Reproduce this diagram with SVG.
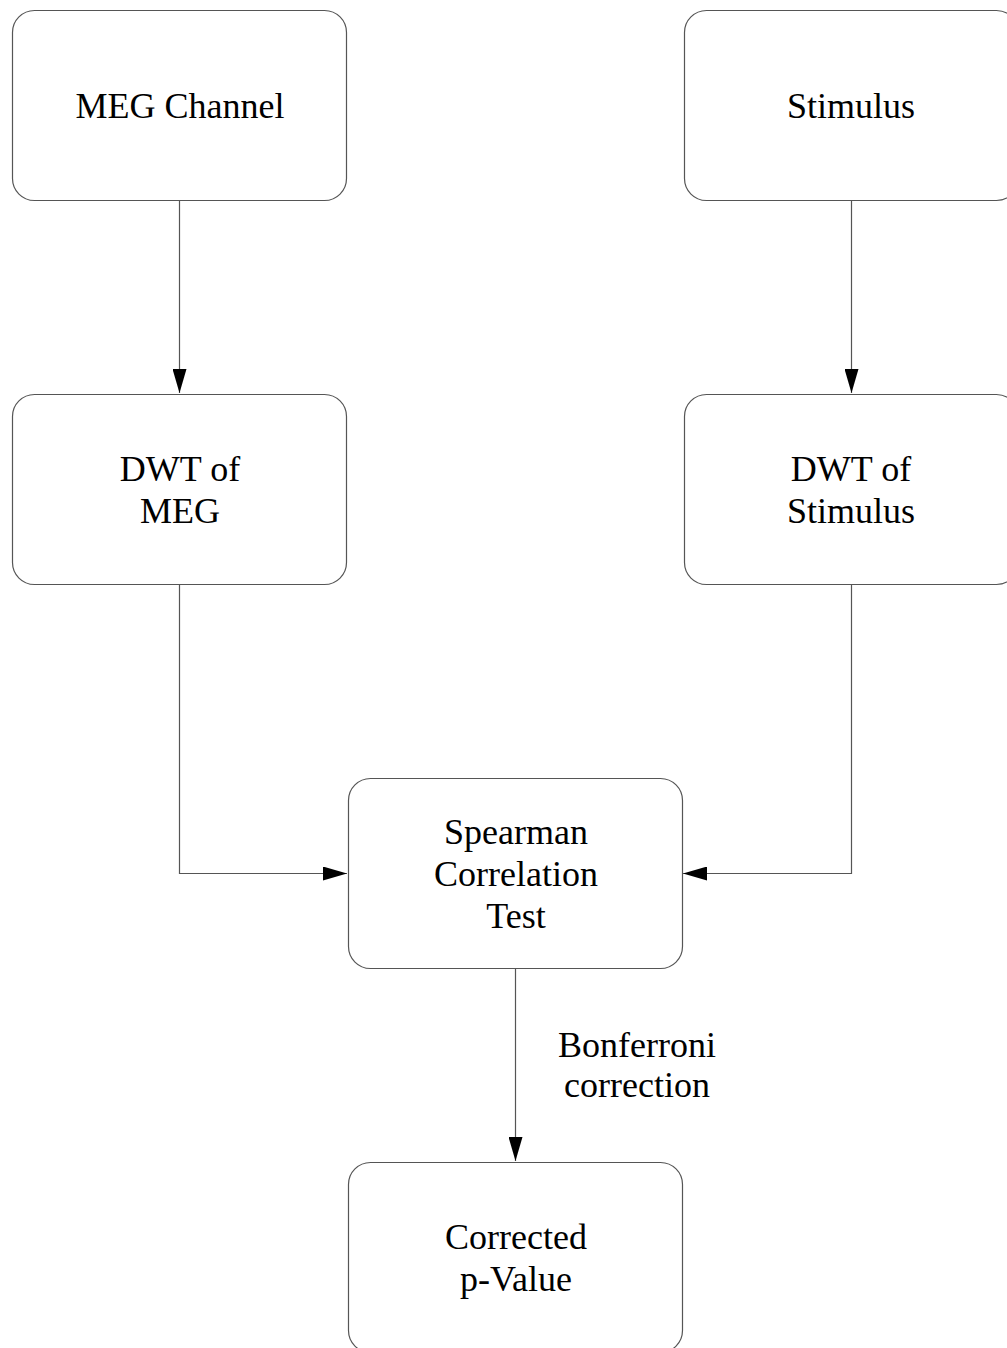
<svg xmlns="http://www.w3.org/2000/svg" width="1007" height="1348" viewBox="0 0 1007 1348">
<style>
.box{fill:#fff;stroke:#555;stroke-width:1.2}
.t{font-family:"Liberation Serif","Times New Roman",serif;font-size:36px;fill:#000;text-anchor:middle}
.c{fill:none;stroke:#555;stroke-width:1.2}
</style>
<defs>
<marker id="ah" markerWidth="24" markerHeight="14" refX="24" refY="7" orient="auto" markerUnits="userSpaceOnUse">
<path d="M0,0 L24,7 L0,14 Z" fill="#000"/>
</marker>
</defs>
<rect width="1007" height="1348" fill="#fff"/>
<g id="connectors">
<path class="c" d="M179.5,200 V393" marker-end="url(#ah)"/>
<path class="c" d="M851.5,200 V393" marker-end="url(#ah)"/>
<path class="c" d="M179.5,584 V873.5 H347" marker-end="url(#ah)"/>
<path class="c" d="M851.5,584 V873.5 H683" marker-end="url(#ah)"/>
<path class="c" d="M515.5,968 V1161" marker-end="url(#ah)"/>
<text class="t" x="637" y="1057">Bonferroni</text>
<text class="t" x="637" y="1097">correction</text>
</g>
<g id="meg">
<rect class="box" x="12.5" y="10.5" width="334" height="190" rx="22"/>
<text class="t" x="180" y="118">MEG Channel</text>
</g>
<g id="stimulus">
<rect class="box" x="684.5" y="10.5" width="334" height="190" rx="22"/>
<text class="t" x="851" y="118">Stimulus</text>
</g>
<g id="dwt-meg">
<rect class="box" x="12.5" y="394.5" width="334" height="190" rx="22"/>
<text class="t" x="180" y="481">DWT of</text>
<text class="t" x="180" y="523">MEG</text>
</g>
<g id="dwt-stim">
<rect class="box" x="684.5" y="394.5" width="334" height="190" rx="22"/>
<text class="t" x="851" y="481">DWT of</text>
<text class="t" x="851" y="523">Stimulus</text>
</g>
<g id="spearman">
<rect class="box" x="348.5" y="778.5" width="334" height="190" rx="22"/>
<text class="t" x="516" y="844">Spearman</text>
<text class="t" x="516" y="886">Correlation</text>
<text class="t" x="516" y="928">Test</text>
</g>
<g id="corrected">
<rect class="box" x="348.5" y="1162.5" width="334" height="190" rx="22"/>
<text class="t" x="516" y="1249">Corrected</text>
<text class="t" x="516" y="1291">p-Value</text>
</g>
</svg>
